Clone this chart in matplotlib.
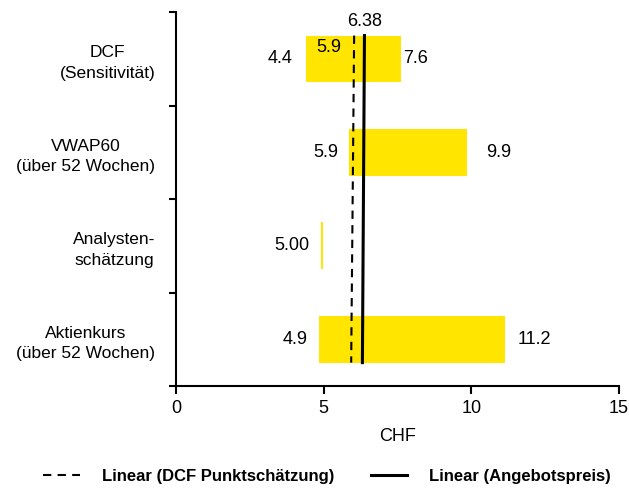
import matplotlib.pyplot as plt
from matplotlib.lines import Line2D

plt.rcParams['font.family'] = ['Liberation Sans', 'DejaVu Sans']

# categories bottom -> top
categories = ["Aktienkurs\n(über 52 Wochen)", "Analysten-\nschätzung",
              "VWAP60\n(über 52 Wochen)", "DCF\n(Sensitivität)"]
low = [4.85, 4.92, 5.86, 4.40]
high = [11.14, 4.98, 9.86, 7.62]
low_labels = ["4.9", "5.00", "5.9", "4.4"]
high_labels = ["11.2", "", "9.9", "7.6"]
# where the value labels sit on the x axis
low_label_x = [4.44, 4.50, 5.48, 3.94]
high_label_x = [11.58, 0, 10.5, 7.68]
dcf_inner_label = "5.9"

# slightly slanted trend lines (top, bottom)
dcf_point = [6.03, 5.93]
offer_price = [6.38, 6.31]
offer_label = "6.38"

yellow = "#FFE500"
bar_h = 0.5

fig = plt.figure(figsize=(6.29, 4.88), dpi=100)
ax = fig.add_axes([0.28, 0.209, 0.704, 0.766])

ypos = list(range(len(categories)))
widths = [h - l for l, h in zip(low, high)]
ax.barh(ypos, widths, left=low, height=bar_h, color=yellow, edgecolor="none", zorder=1)

top = ypos[-1] + bar_h / 2
bottom = ypos[0] - bar_h / 2
ax.plot(dcf_point, [top, bottom], color="black", lw=1.5, ls=(0, (4, 3)), zorder=3)
ax.plot(offer_price, [top, bottom], color="black", lw=2.2, zorder=3)

fs = 13
for y, lx, hx, ll, hl in zip(ypos, low_label_x, high_label_x, low_labels, high_labels):
    ax.text(lx, y, ll, ha="right", va="center", fontsize=fs)
    if hl:
        ax.text(hx, y, hl, ha="left", va="center", fontsize=fs)

ax.text(4.75, ypos[-1] + 0.12, dcf_inner_label, ha="left", va="center", fontsize=fs)
ax.text(offer_price[0], top + 0.06, offer_label, ha="center", va="bottom", fontsize=fs)

ax.set_xlim(0, 15)
ax.set_ylim(-0.5, 3.5)
ax.set_xticks([0, 5, 10, 15])
ax.tick_params(axis="x", direction="out", length=6, width=1.5, labelsize=fs, pad=4)
ax.set_yticks(ypos)
ax.set_yticklabels(categories, fontsize=12.5, ha="right", multialignment="center",
                   linespacing=1.45)
ax.tick_params(axis="y", which="major", length=0, pad=15)
ax.set_yticks([-0.5, 0.5, 1.5, 2.5, 3.5], minor=True)
ax.tick_params(axis="y", which="minor", direction="out", length=5, width=1.5)
ax.set_xlabel("CHF", fontsize=fs, labelpad=8)

for s in ["top", "right"]:
    ax.spines[s].set_visible(False)
for s in ["left", "bottom"]:
    ax.spines[s].set_linewidth(1.5)

handles = [
    Line2D([], [], color="black", lw=1.5, ls=(0, (4, 3))),
    Line2D([], [], color="black", lw=2.2),
]
fig.legend(handles, ["Linear (DCF Punktschätzung)", "Linear (Angebotspreis)"],
           loc="lower center", bbox_to_anchor=(0.52, -0.022), ncol=2, frameon=False,
           prop={"size": 12, "weight": "bold"}, handlelength=2.2, handletextpad=1.3,
           columnspacing=2.2)

fig.savefig("out.png", dpi=100)
